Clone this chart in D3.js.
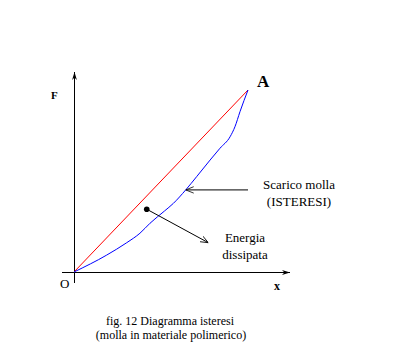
<!DOCTYPE html>
<html><head><meta charset="utf-8">
<script src="https://cdn.jsdelivr.net/npm/d3@7"></script>
<style>body{margin:0;background:#fff;}svg{display:block;} text{font-family:"Liberation Serif","DejaVu Serif",serif;}</style>
</head><body>
<svg id="c" width="406" height="361"></svg>
<script>
const loading = [[0,0],[10,10]];
const unloading = [[0,0],[1.88,0.93],[3.03,1.61],[3.79,2.13],[4.37,2.68],[5.2,3.35],[5.71,3.77],[6.42,4.51],[7.05,5.24],[7.82,6.15],[8.39,6.80],[8.97,7.43],[9.25,7.98],[9.54,8.81],[10,10]];
const axisLabels = {x:"x", y:"F", origin:"O", point:"A"};
const notes = [["Scarico molla","(ISTERESI)"],["Energia","dissipata"]];
const caption = ["fig. 12 Diagramma isteresi","(molla in materiale polimerico)"];

const svg = d3.select("#c");
const x = d3.scaleLinear().domain([0,10]).range([74,248]);
const y = d3.scaleLinear().domain([0,10]).range([272,90]);

const defs = svg.append("defs");
defs.append("marker").attr("id","ax").attr("viewBox","0 0 10 10").attr("refX",10).attr("refY",5)
  .attr("markerWidth",8).attr("markerHeight",8).attr("orient","auto").attr("markerUnits","userSpaceOnUse")
  .append("path").attr("d","M0,2 L10,5 L0,8 L3,5 Z").attr("fill","#000");
defs.append("marker").attr("id","op").attr("viewBox","0 0 10 10").attr("refX",10).attr("refY",5)
  .attr("markerWidth",8).attr("markerHeight",8).attr("orient","auto").attr("markerUnits","userSpaceOnUse")
  .append("path").attr("d","M0,1 L10,5 L0,9").attr("fill","none").attr("stroke","#000").attr("stroke-width",1);

// axes
svg.append("line").attr("x1",62).attr("y1",y(0)+0.5).attr("x2",290).attr("y2",y(0)+0.5)
  .attr("stroke","#000").attr("stroke-width",1).attr("marker-end","url(#ax)");
svg.append("line").attr("x1",x(0)+0.5).attr("y1",283).attr("x2",x(0)+0.5).attr("y2",72)
  .attr("stroke","#000").attr("stroke-width",1).attr("marker-end","url(#ax)");

const line = d3.line().x(d=>x(d[0])).y(d=>y(d[1]));
svg.append("path").datum(loading).attr("d",line).attr("fill","none").attr("stroke","#ff0000").attr("stroke-width",1);
svg.append("path").datum(unloading).attr("d",line.curve(d3.curveMonotoneX)).attr("fill","none").attr("stroke","#0000ff").attr("stroke-width",1);

// annotation arrows
svg.append("line").attr("x1",x(10)).attr("y1",y(4.51)).attr("x2",x(6.42)).attr("y2",y(4.51))
  .attr("stroke","#000").attr("stroke-width",1).attr("marker-end","url(#op)");
svg.append("line").attr("x1",x(4.18)).attr("y1",y(3.45)).attr("x2",x(7.72)).attr("y2",y(1.61))
  .attr("stroke","#000").attr("stroke-width",1).attr("marker-end","url(#op)");
svg.append("circle").attr("cx",x(4.18)).attr("cy",y(3.45)).attr("r",2.8).attr("fill","#000");

// labels
const t = (s,xx,yy,size,weight,anchor)=>svg.append("text").attr("x",xx).attr("y",yy)
  .style("font-family","'Liberation Serif', 'DejaVu Serif', serif").attr("font-size",size).attr("font-weight",weight||"normal")
  .attr("text-anchor",anchor||"start").attr("fill","#000").text(s);
t(axisLabels.point,257,87,17,"bold");
t(axisLabels.y,51,99,11,"bold");
t(axisLabels.origin,60,288,13,"normal");
t(axisLabels.x,274,290,12,"bold");
t(notes[0][0],299,189,13,"normal","middle");
t(notes[0][1],299,206,13,"normal","middle");
t(notes[1][0],245,242,13,"normal","middle");
t(notes[1][1],245,259,13,"normal","middle");
t(caption[0],170,325,12,"normal","middle");
t(caption[1],171,339,12,"normal","middle");
</script>
</body></html>
